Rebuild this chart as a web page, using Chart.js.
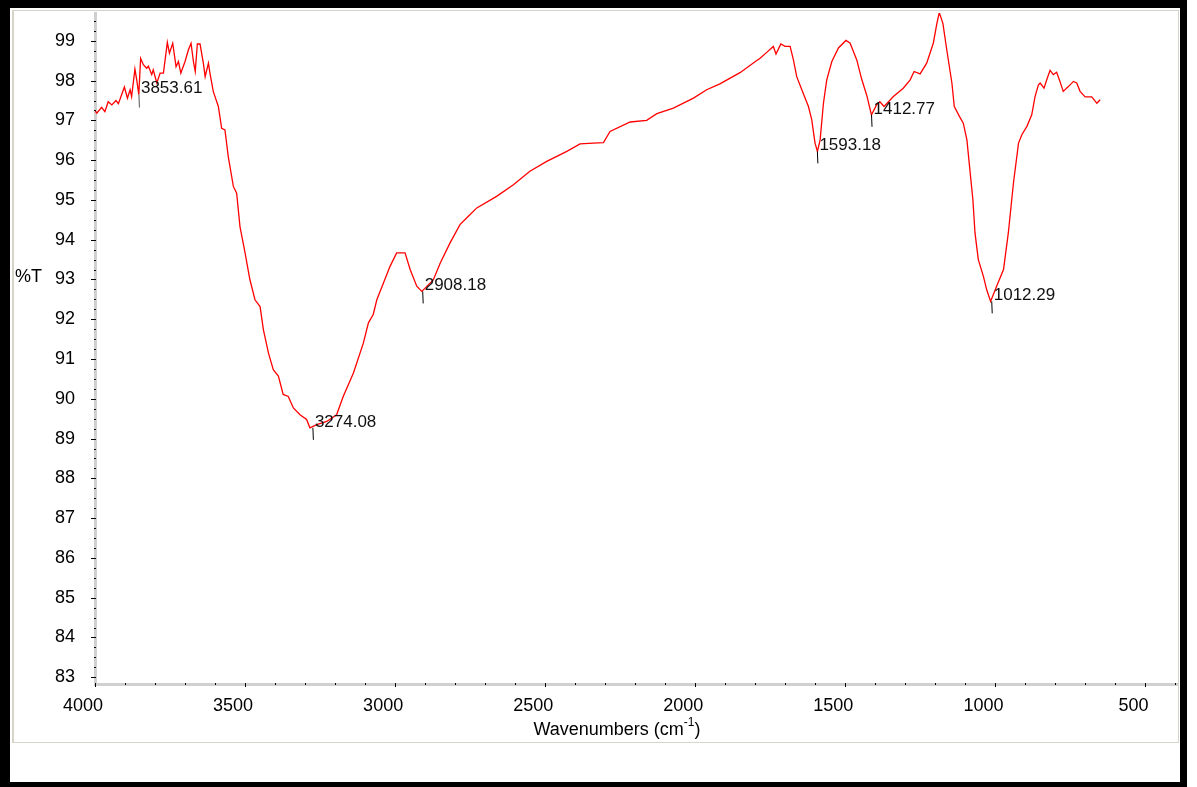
<!DOCTYPE html>
<html>
<head>
<meta charset="utf-8">
<title>FTIR spectrum</title>
<script src="https://cdn.jsdelivr.net/npm/chart.js"></script>
<style>
  html, body { margin: 0; padding: 0; background: #fff; }
  #wrap { position: relative; width: 1197px; height: 787px; overflow: hidden; }
  #frame {
    position: absolute; left: 0; top: 0; width: 1187px; height: 787px;
    box-sizing: border-box; border-style: solid; border-color: #000;
    border-width: 8px 7px 5px 10px; z-index: 3;
  }
  #panel {
    position: absolute; left: 12px; top: 10px; width: 1167px; height: 733px;
    box-sizing: border-box; border: 1px solid #d6d3c8; border-left-width: 2px; z-index: 1;
  }
  #chart { position: absolute; left: 0; top: 0; z-index: 2; }
</style>
</head>
<body>
<div id="wrap">
  <div id="panel"></div>
  <canvas id="chart" width="1197" height="787"></canvas>
  <div id="frame"></div>
</div>
<script>
// spectrum (wavenumber in cm-1, %T)
const wavenumbers = [4000,3994,3978,3967,3956,3944,3930,3922,3902,3892,3883,3878,3867,3861,3854,3848,3839,3828,3822,3811,3806,3794,3783,3772,3759,3752,3741,3730,3722,3714,3700,3689,3680,3672,3666,3659,3650,3639,3633,3622,3617,3606,3589,3578,3567,3556,3539,3528,3517,3500,3484,3467,3450,3439,3422,3406,3389,3373,3356,3339,3317,3295,3284,3261,3228,3195,3173,3139,3106,3089,3073,3061,3039,3017,2995,2967,2950,2928,2911,2873,2850,2817,2784,2756,2728,2662,2606,2551,2495,2428,2384,2340,2306,2284,2217,2162,2128,2073,2006,1962,1918,1851,1802,1784,1762,1740,1731,1715,1701,1684,1673,1662,1645,1623,1612,1601,1593,1584,1573,1562,1545,1523,1498,1484,1462,1445,1429,1413,1396,1385,1371,1340,1307,1284,1271,1251,1229,1207,1195,1187,1175,1162,1145,1137,1120,1107,1095,1084,1075,1068,1057,1040,1029,1016,996,973,957,940,923,912,895,879,868,857,851,838,829,818,807,796,785,774,757,740,729,718,701,679,662,651];
const transmittance = [97.25,97.18,97.33,97.22,97.47,97.39,97.50,97.42,97.84,97.56,97.77,97.60,98.29,98.02,97.65,98.56,98.40,98.31,98.36,98.15,98.27,97.94,98.19,98.19,98.96,98.69,98.94,98.35,98.48,98.19,98.48,98.77,98.94,98.48,98.23,98.92,98.92,98.44,98.10,98.44,98.19,97.73,97.35,96.80,96.76,96.09,95.34,95.17,94.33,93.67,93.00,92.49,92.32,91.74,91.15,90.73,90.57,90.11,90.06,89.77,89.60,89.48,89.27,89.35,89.43,89.60,90.06,90.65,91.40,91.91,92.12,92.49,92.91,93.33,93.67,93.67,93.25,92.83,92.70,92.99,93.41,93.92,94.38,94.59,94.80,95.09,95.38,95.72,95.97,96.22,96.41,96.43,96.44,96.72,96.96,97.00,97.17,97.31,97.56,97.77,97.92,98.20,98.47,98.56,98.71,98.86,98.67,98.92,98.86,98.86,98.52,98.10,97.77,97.35,97.02,96.43,96.22,96.51,97.43,98.02,98.48,98.82,99.01,98.94,98.52,98.02,97.64,97.14,97.39,97.47,97.35,97.60,97.81,98.02,98.23,98.17,98.44,98.94,99.44,99.71,99.44,98.77,97.94,97.35,97.10,96.93,96.51,95.68,95.00,94.17,93.50,93.08,92.74,92.45,92.83,93.25,94.17,95.42,96.43,96.64,96.85,97.14,97.60,97.89,97.94,97.81,98.02,98.26,98.15,98.21,97.98,97.73,97.85,97.98,97.94,97.73,97.59,97.59,97.43,97.52];

// marked peaks
const peakLabels = ['3853.61','3274.08','2908.18','1593.18','1412.77','1012.29'];
const peakWn = [3853.61,3274.08,2908.18,1593.18,1412.77,1012.29];
const peakT = [97.65,89.27,92.70,96.22,97.14,92.45];

const xTicks = [4000,3500,3000,2500,2000,1500,1000,500];
const yTicks = [83,84,85,86,87,88,89,90,91,92,93,94,95,96,97,98,99];

const FONT = 'Arial, "Liberation Sans", sans-serif';

const extras = {
  id: 'extras',
  afterDatasetsDraw(chart) {
    const { ctx, chartArea: a } = chart;
    const x = chart.scales.x, y = chart.scales.y;
    ctx.save();
    // tick marks, major and minor
    ctx.strokeStyle = '#000';
    ctx.lineWidth = 1;
    ctx.beginPath();
    for (let v = 4000; v >= x.min; v -= 100) {
      const px = Math.round(x.getPixelForValue(v)) + 0.5;
      const len = v % 500 === 0 ? 4 : 2;
      ctx.moveTo(px, a.bottom - 1);
      ctx.lineTo(px, a.bottom - 1 + len);
    }
    for (let v = 83; v <= y.max; v += 0.25) {
      const py = Math.round(y.getPixelForValue(v)) + 0.5;
      const len = Number.isInteger(v) ? 5 : 2;
      ctx.moveTo(a.left + 1, py);
      ctx.lineTo(a.left + 1 - len, py);
    }
    ctx.stroke();

    // peak markers
    ctx.font = '17px ' + FONT;
    ctx.textBaseline = 'middle';
    ctx.textAlign = 'left';
    peakWn.forEach((w, i) => {
      const px = x.getPixelForValue(w);
      const py = y.getPixelForValue(peakT[i]);
      ctx.strokeStyle = i === 0 ? '#555' : '#000';
      ctx.beginPath();
      ctx.moveTo(px, py);
      ctx.lineTo(px + 0.5, py + (i === 0 ? 13 : 12));
      ctx.stroke();
      ctx.fillStyle = '#111';
      ctx.fillText(peakLabels[i], px + 2, py - 6);
    });

    // axis titles
    ctx.fillStyle = '#000';
    ctx.font = '18px ' + FONT;
    ctx.fillText('%T', 15, 277);
    const main = 'Wavenumbers (cm';
    const sup = '-1';
    const w1 = ctx.measureText(main).width;
    ctx.font = '12px ' + FONT;
    const w2 = ctx.measureText(sup).width;
    ctx.font = '18px ' + FONT;
    const w3 = ctx.measureText(')').width;
    let tx = a.left + 522 - (w1 + w2 + w3) / 2;
    ctx.fillText(main, tx, 730);
    tx += w1;
    ctx.font = '12px ' + FONT;
    ctx.fillText(sup, tx, 723);
    tx += w2;
    ctx.font = '18px ' + FONT;
    ctx.fillText(')', tx, 730);
    ctx.restore();
  }
};

new Chart(document.getElementById('chart').getContext('2d'), {
  type: 'line',
  data: {
    datasets: [{
      data: wavenumbers.map((w, i) => ({ x: w, y: transmittance[i] })),
      borderColor: '#ff0000',
      borderWidth: 1.3,
      pointRadius: 0,
      tension: 0,
      fill: false
    }]
  },
  options: {
    responsive: false,
    animation: false,
    events: [],
    layout: { padding: { left: 0, top: 13, right: 20, bottom: 0 } },
    plugins: { legend: { display: false }, tooltip: { enabled: false } },
    scales: {
      x: {
        type: 'linear',
        reverse: true,
        min: 395,
        max: 4000,
        afterBuildTicks: s => { s.ticks = xTicks.map(v => ({ value: v })); },
        afterFit: s => { s.height = 103; s.paddingLeft = 0; s.paddingRight = 0; },
        ticks: {
          color: '#000', font: { size: 18, family: FONT }, padding: 6, labelOffset: -12, maxRotation: 0,
          callback: v => String(v)
        },
        grid: { drawOnChartArea: false, drawTicks: true, tickLength: 5, color: 'transparent' },
        border: { color: '#d0d0d0', width: 3 }
      },
      y: {
        min: 82.83,
        max: 99.7,
        afterBuildTicks: s => { s.ticks = yTicks.map(v => ({ value: v })); },
        afterFit: s => { s.width = 95; s.paddingTop = 0; s.paddingBottom = 0; },
        ticks: { color: '#000', font: { size: 18, family: FONT }, padding: 15 },
        grid: { drawOnChartArea: false, drawTicks: true, tickLength: 5, color: 'transparent' },
        border: { color: '#d0d0d0', width: 3 }
      }
    }
  },
  plugins: [extras]
});
</script>
</body>
</html>
